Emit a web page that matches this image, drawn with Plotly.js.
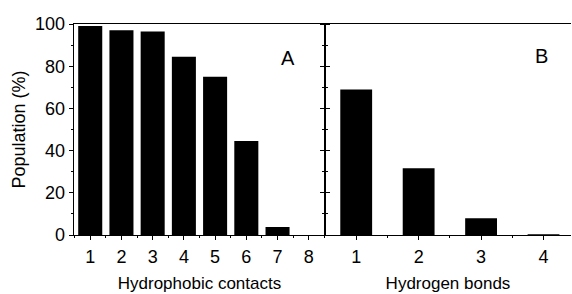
<!DOCTYPE html>
<html>
<head>
<meta charset="utf-8">
<script src="https://cdn.plot.ly/plotly-3.0.1.min.js"></script>
<style>html,body{margin:0;padding:0;background:#fff;}#chart{width:572px;height:294px;}</style>
</head>
<body>
<div id="chart"></div>
<script>
const contactsCats = [1, 2, 3, 4, 5, 6, 7, 8];
const contactsPop = [99, 97, 96.5, 84.5, 75, 44.5, 3.8, 0];
const hbondCats = [1, 2, 3, 4];
const hbondPop = [69, 31.6, 7.9, 0.4];
const panelLabels = ['A', 'B'];

const FONT = 'Liberation Sans, Arial, sans-serif';

const traces = [
  {type: 'bar', x: contactsCats, y: contactsPop, width: 0.77, marker: {color: '#000'}, xaxis: 'x', yaxis: 'y', hoverinfo: 'none'},
  {type: 'bar', x: hbondCats, y: hbondPop, width: 0.51, marker: {color: '#000'}, xaxis: 'x2', yaxis: 'y2', hoverinfo: 'none'}
];

const axisCommon = {
  showline: true, linecolor: '#000', linewidth: 1.4,
  ticks: 'outside', ticklen: 4, tickwidth: 1, tickcolor: '#000',
  showgrid: false, zeroline: false,
  tickfont: {family: FONT, size: 18, color: '#000'}
};

const layout = {
  width: 572, height: 294,
  margin: {l: 74, r: 1, t: 24, b: 59},
  paper_bgcolor: '#fff', plot_bgcolor: '#fff',
  showlegend: false,
  font: {family: FONT, color: '#000'},
  xaxis: Object.assign({}, axisCommon, {
    domain: [0, 0.505], range: [0.48, 8.52], dtick: 1, tick0: 0, mirror: true,
    minor: {dtick: 0.5, tick0: 0.5, ticks: 'outside', ticklen: 2, tickcolor: '#000'},
    title: {text: 'Hydrophobic contacts', font: {family: FONT, size: 17, color: '#000'}, standoff: 11},
    ticklabelstandoff: 1
  }),
  yaxis: Object.assign({}, axisCommon, {
    range: [0, 100], dtick: 20, mirror: 'ticks',
    minor: {dtick: 10, ticks: 'outside', ticklen: 2, tickcolor: '#000'},
    title: {text: 'Population (%)', font: {family: FONT, size: 18, color: '#000'}, standoff: 4},
    ticklabelstandoff: 0
  }),
  xaxis2: Object.assign({}, axisCommon, {
    domain: [0.505, 1], range: [0.5, 4.44], dtick: 1, tick0: 0, mirror: true, anchor: 'y2',
    minor: {dtick: 0.5, tick0: 0.5, ticks: 'outside', ticklen: 2, tickcolor: '#000'},
    title: {text: 'Hydrogen bonds', font: {family: FONT, size: 17, color: '#000'}, standoff: 11},
    ticklabelstandoff: 1
  }),
  yaxis2: Object.assign({}, axisCommon, {
    range: [0, 100], dtick: 20, anchor: 'x2', showticklabels: false, mirror: false,
    minor: {dtick: 10, ticks: 'outside', ticklen: 2, tickcolor: '#000'}
  }),
  annotations: [
    {text: panelLabels[0], x: 7.34, y: 84, xref: 'x', yref: 'y', showarrow: false, xanchor: 'center', yanchor: 'middle', font: {family: FONT, size: 20, color: '#000'}},
    {text: panelLabels[1], x: 3.96, y: 85, xref: 'x2', yref: 'y2', showarrow: false, xanchor: 'center', yanchor: 'middle', font: {family: FONT, size: 20, color: '#000'}}
  ]
};

Plotly.newPlot('chart', traces, layout, {staticPlot: true, displayModeBar: false});
</script>
</body>
</html>
